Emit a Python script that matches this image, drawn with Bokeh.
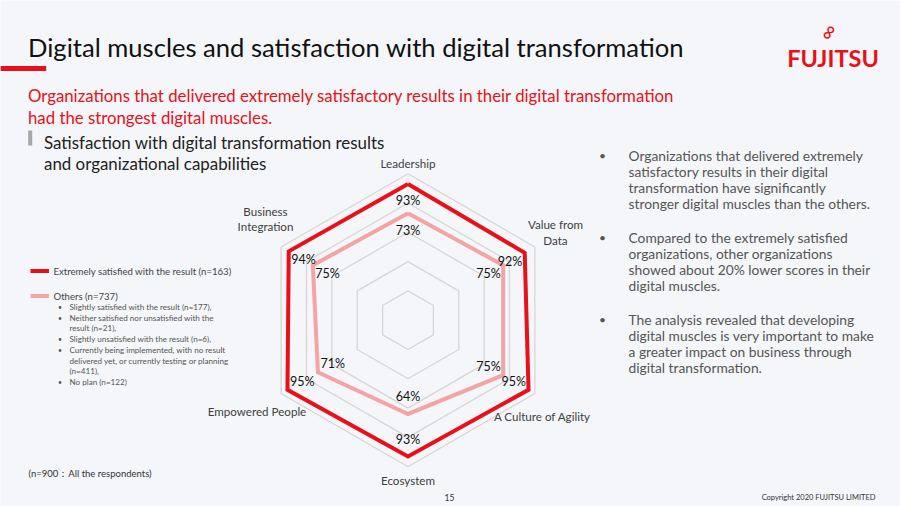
import numpy as np
from bokeh.plotting import figure
from bokeh.models import Range1d
from bokeh.core.properties import value
from bokeh.embed import file_html
from bokeh.resources import INLINE

# ---------------- data ----------------
categories = ["Leadership", "Value from Data", "A Culture of Agility",
              "Ecosystem", "Empowered People", "Business Integration"]
extremely_satisfied = [93, 92, 95, 93, 95, 94]
others = [73, 75, 75, 64, 71, 75]
grid_levels = [20, 40, 60, 80, 100]
series_names = ["Extremely satisfied with the result (n=163)", "Others (n=737)"]
others_breakdown = [
    ["Slightly satisfied with the result (n=177),"],
    ["Neither satisfied nor unsatisfied with the", "result (n=21),"],
    ["Slightly unsatisfied with the result (n=6),"],
    ["Currently being implemented, with no result",
     "delivered yet, or currently testing or planning", "(n=411),"],
    ["No plan (n=122)"],
]
findings = [
    ["Organizations that delivered extremely", "satisfactory results in their digital",
     "transformation have significantly", "stronger digital muscles than the others."],
    ["Compared to the extremely satisfied", "organizations, other organizations",
     "showed about 20% lower scores in their", "digital muscles."],
    ["The analysis revealed that developing", "digital muscles is very important to make",
     "a greater impact on business through", "digital transformation."],
]
title = "Digital muscles and satisfaction with digital transformation"
subtitle = ["Organizations that delivered extremely satisfactory results in their digital transformation",
            "had the strongest digital muscles."]
heading = ["Satisfaction with digital transformation results", "and organizational capabilities"]

# ---------------- style ----------------
FONT = "Lato"
RED = "#e8101a"
PINK = "#f4a4a4"
GRID = "#d6d6d6"
BG = "#f4f6f9"

W, H = 900, 506
p = figure(width=W, height=H, output_backend="svg", toolbar_location=None,
           x_range=Range1d(0, W), y_range=Range1d(H, 0),
           min_border=0)
p.axis.visible = False
p.grid.visible = False
p.outline_line_color = None
p.background_fill_color = BG
p.border_fill_color = BG


def txt(x, y, s, size, color="#333333", align="left", baseline="middle", style="normal", angle=0):
    p.text(x=[x], y=[y], text=[s], text_font=value(FONT), text_font_size=f"{size}px",
           text_color=color, text_align=align, text_baseline=baseline, text_font_style=style,
           angle=angle)


# ---------------- header ----------------
txt(27.5, 46.7, title, 25.6, "#111111", baseline="alphabetic")
p.quad(left=[0], right=[45.7], top=[65.5], bottom=[70.5], fill_color=RED, line_color=None)
txt(27.5, 95, subtitle[0], 16.8, RED, baseline="alphabetic")
txt(27.5, 116.5, subtitle[1], 16.8, RED, baseline="alphabetic")
p.quad(left=[27.7], right=[31.7], top=[130], bottom=[145], fill_color="#a6a6a6", line_color=None)
txt(43.5, 141.7, heading[0], 16.9, "#222222", baseline="alphabetic")
txt(43.5, 163.3, heading[1], 16.9, "#222222", baseline="alphabetic")

# logo
txt(832.5, 57.5, "FUJITSU", 23.5, RED, align="center", baseline="alphabetic", style="bold")
txt(826.5, 31, "\u221e", 21, RED, align="center", angle=1.0)

# ---------------- radar ----------------
cx, cy = 407.5, 319.7
scale = 1.465  # px per percentage point
angles = np.deg2rad(90 - 60 * np.arange(len(categories)))


def polar(vals, offset=0.0):
    r = np.asarray(vals, dtype=float) * scale + offset
    return cx + r * np.cos(angles), cy - r * np.sin(angles)


for lvl in grid_levels:
    gx, gy = polar([lvl] * len(categories))
    p.line(list(gx) + [gx[0]], list(gy) + [gy[0]], line_color=GRID, line_width=1.3)

ox, oy = polar(others)
p.line(list(ox) + [ox[0]], list(oy) + [oy[0]], line_color=PINK, line_width=4, line_join="miter")
ex, ey = polar(extremely_satisfied)
p.line(list(ex) + [ex[0]], list(ey) + [ey[0]], line_color=RED, line_width=4, line_join="miter")

# value labels (placed just inside each vertex)
lx, ly = polar(extremely_satisfied, -17)
p.text(x=lx, y=ly, text=[f"{v}%" for v in extremely_satisfied], text_font=value(FONT),
       text_font_size="12.5px", text_color="#111111", text_align="center", text_baseline="middle")
lx, ly = polar(others, -17)
p.text(x=lx, y=ly, text=[f"{v}%" for v in others], text_font=value(FONT),
       text_font_size="12.5px", text_color="#111111", text_align="center", text_baseline="middle")

# category labels
cat_layout = {
    "Leadership": [(407.5, 163, "Leadership")],
    "Value from Data": [(555, 224, "Value from"), (555, 240, "Data")],
    "A Culture of Agility": [(542, 416, "A Culture of Agility")],
    "Ecosystem": [(407.5, 480, "Ecosystem")],
    "Empowered People": [(256.5, 411, "Empowered People")],
    "Business Integration": [(265, 211, "Business"), (265, 226, "Integration")],
}
for c in categories:
    for (x, y, s) in cat_layout[c]:
        txt(x, y, s, 11.6, "#404040", align="center")

# ---------------- legend ----------------
p.segment(x0=[30], x1=[48.5], y0=[270.5], y1=[270.5], line_color=RED, line_width=4)
txt(53, 270.5, series_names[0], 9.6, "#444444")
p.segment(x0=[30], x1=[48.5], y0=[295.5], y1=[295.5], line_color=PINK, line_width=4)
txt(53, 295.5, series_names[1], 9.6, "#444444")

y = 306.7
for item in others_breakdown:
    txt(59.5, y, "\u2022", 7, "#555555", align="center")
    for line in item:
        txt(69, y, line, 8.1, "#555555")
        y += 10.2
    y += 0.8

# ---------------- findings ----------------
block_tops = [155, 237, 319]
for top, block in zip(block_tops, findings):
    txt(602, top, "\u2022", 12, "#555555", align="center")
    for j, line in enumerate(block):
        txt(628, top + 16 * j, line, 13.8, "#555555")

# ---------------- footer ----------------
txt(28, 473, "(n=900\uff1aAll the respondents)", 9.5, "#333333")
txt(449, 497, "15", 8.5, "#333333", align="center")
txt(875, 497, "Copyright 2020 FUJITSU LIMITED", 7.5, "#333333", align="right")

open("out.html", "w").write(file_html(p, INLINE))
